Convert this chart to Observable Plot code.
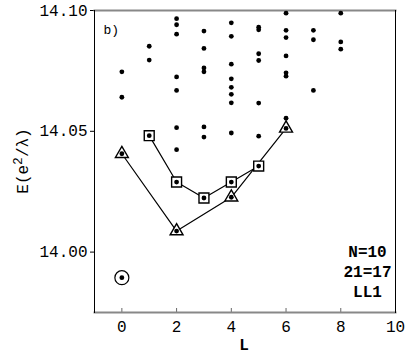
<!DOCTYPE html>
<html>
<head>
<meta charset="utf-8">
<script src="https://cdn.jsdelivr.net/npm/d3@7"></script>
<script src="https://cdn.jsdelivr.net/npm/@observablehq/plot@0.6"></script>
<style>
  html, body { margin: 0; padding: 0; background: #fff; }
  #chart { width: 415px; height: 360px; }
  #chart svg text { font-family: "Liberation Mono", "Courier New", Courier, monospace; }
</style>
</head>
<body>
<div id="chart"></div>
<script>
// Energy levels (dots) at each angular momentum L
const dotsL = [
  0, 0,
  1, 1,
  2, 2, 2, 2, 2, 2, 2,
  3, 3, 3, 3, 3, 3,
  4, 4, 4, 4, 4, 4, 4, 4,
  5, 5, 5, 5, 5, 5,
  6, 6, 6, 6, 6, 6, 6,
  7, 7, 7,
  8, 8, 8
];
const dotsE = [
  14.0746, 14.0641,
  14.0852, 14.0795,
  14.0966, 14.0941, 14.0902, 14.0725, 14.0669, 14.0515, 14.0424,
  14.0915, 14.0843, 14.0762, 14.0746, 14.0518, 14.0476,
  14.0949, 14.0893, 14.0778, 14.0717, 14.0682, 14.0653, 14.0618, 14.0493,
  14.0931, 14.0920, 14.0821, 14.0793, 14.0617, 14.0480,
  14.0989, 14.0918, 14.0888, 14.0812, 14.0742, 14.0728, 14.0554,
  14.0918, 14.0879, 14.0669,
  14.0989, 14.0870, 14.0840
];
// Triangle-marked band (even L)
const triL = [0, 2, 4, 6];
const triE = [14.0407, 14.0087, 14.0227, 14.0512];
// Square-marked band
const sqL = [1, 2, 3, 4, 5];
const sqE = [14.0482, 14.0290, 14.0224, 14.0290, 14.0356];
// Circled ground state
const circL = [0];
const circE = [13.9894];

const xTicks = [0, 2, 4, 6, 8, 10];
const yTicks = [14.00, 14.05, 14.10];
const panelTag = "b)";
const infoText = "N=10\n21=17\nLL1";

const toRows = (L, E) => L.map((l, i) => ({L: l, E: E[i]}));
const dots = toRows(dotsL, dotsE);
const tri = toRows(triL, triE);
const sq = toRows(sqL, sqE);
const circ = toRows(circL, circE);
const markerDots = [...tri, ...sq, ...circ];

const FONT = '"Liberation Mono", "Courier New", Courier, monospace';

const plot = Plot.plot({
  width: 415,
  height: 360,
  marginLeft: 94,
  marginRight: 20,
  marginTop: 10,
  marginBottom: 48,
  style: {fontFamily: FONT, fontSize: "16px", background: "#fff", color: "#000"},
  x: {domain: [-1, 10], ticks: xTicks, label: null},
  y: {domain: [13.975, 14.10], ticks: yTicks, tickFormat: ".2f", label: null},
  marks: [
    Plot.axisX({ticks: xTicks, tickSize: -4, tickPadding: 12, label: null, fontSize: 16, stroke: "#666"}),
    Plot.axisY({ticks: yTicks, tickFormat: ".2f", tickSize: 4, tickPadding: 3, label: null, fontSize: 16}),
    Plot.frame({anchor: "top", stroke: "#888", strokeWidth: 2}),
    Plot.frame({anchor: "bottom", stroke: "#888", strokeWidth: 2}),
    Plot.frame({anchor: "left", stroke: "#000", strokeWidth: 1}),
    Plot.frame({anchor: "right", stroke: "#000", strokeWidth: 1}),
    Plot.line(tri, {x: "L", y: "E", stroke: "#000", strokeWidth: 1.2}),
    Plot.line(sq, {x: "L", y: "E", stroke: "#000", strokeWidth: 1.2}),
    Plot.dot(dots, {x: "L", y: "E", r: 2.4, fill: "#000", stroke: null}),
    Plot.dot(tri, {x: "L", y: "E", symbol: "triangle", r: 4.8, fill: "#fff", stroke: "#000", strokeWidth: 1.4}),
    Plot.dot(sq, {x: "L", y: "E", symbol: "square", r: 5.6, fill: "#fff", stroke: "#000", strokeWidth: 1.4}),
    Plot.dot(circ, {x: "L", y: "E", r: 7, fill: "#fff", stroke: "#000", strokeWidth: 1.2}),
    Plot.dot(markerDots, {x: "L", y: "E", r: 2.4, fill: "#000", stroke: null}),
    Plot.text([panelTag], {frameAnchor: "top-left", dx: 9, dy: 14, text: d => d, fontSize: 13, fontFamily: FONT, textAnchor: "start"}),
    Plot.text([infoText], {frameAnchor: "bottom-right", dx: -28, dy: -16, text: d => d, fontSize: 16, fontWeight: "bold", fontFamily: FONT, textAnchor: "middle", lineHeight: 1.25})
  ]
});

const svg = d3.select(plot);
// axis titles
svg.append("text")
  .attr("x", 244).attr("y", 350)
  .attr("text-anchor", "middle")
  .style("font-size", "16px").style("font-weight", "bold")
  .text("L");
const yl = svg.append("text")
  .attr("transform", "translate(28,161) rotate(-90)")
  .attr("text-anchor", "middle")
  .style("font-size", "16px");
yl.append("tspan").text("E(e");
yl.append("tspan").attr("dy", -6).style("font-size", "13px").text("2");
yl.append("tspan").attr("dy", 6).text("/\u03bb)");

document.getElementById("chart").appendChild(plot);
</script>
</body>
</html>
